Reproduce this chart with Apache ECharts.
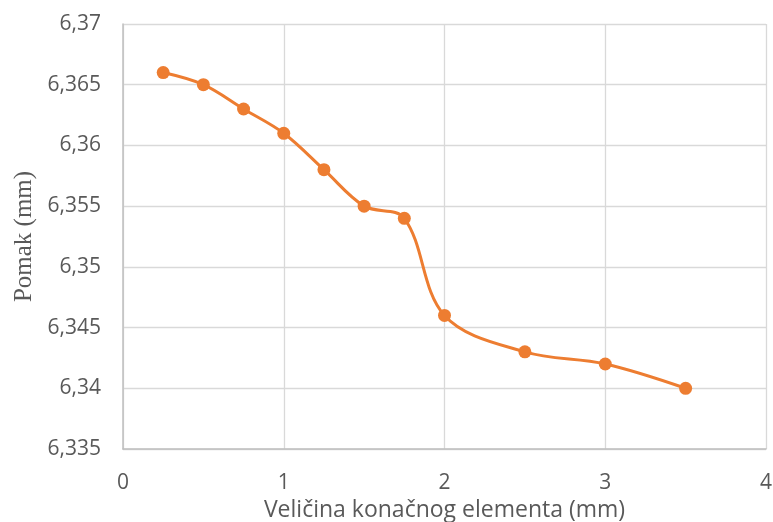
<!DOCTYPE html>
<html><head><meta charset="utf-8">
<script src="https://cdn.jsdelivr.net/npm/echarts@6/dist/echarts.min.js"></script>
<style>html,body{margin:0;padding:0;background:#fff}#c{width:773px;height:522px}</style>
</head><body><div id="c"></div>
<script>
const xValues = [0.25, 0.5, 0.75, 1, 1.25, 1.5, 1.75, 2, 2.5, 3, 3.5];
const yValues = [6.366, 6.365, 6.363, 6.361, 6.358, 6.355, 6.354, 6.346, 6.343, 6.342, 6.340];
const xAxisTitle = 'Veličina konačnog elementa (mm)';
const yAxisTitle = 'Pomak (mm)';

const chart = echarts.init(document.getElementById('c'), null, {renderer: 'canvas'});
const fmtY = v => {
  let s = (Math.round(v * 1000) / 1000).toFixed(3).replace(/0+$/, '').replace(/\.$/, '');
  return s.replace('.', ',');
};
chart.setOption({
  animation: false,
  grid: {left: 123, right: 7, top: 24, bottom: 73, containLabel: false, outerBoundsMode: 'none'},
  xAxis: {
    type: 'value', min: 0, max: 4, interval: 1,
    name: xAxisTitle, nameLocation: 'middle', nameGap: 44,
    nameTextStyle: {fontFamily: 'Open Sans', fontSize: 23, color: '#595959'},
    axisLine: {show: true, lineStyle: {color: '#bfbfbf', width: 1.5}},
    axisTick: {show: false},
    axisLabel: {fontFamily: 'Open Sans', fontSize: 21, color: '#595959', margin: 24},
    splitLine: {show: true, lineStyle: {color: '#d9d9d9', width: 1.3}}
  },
  yAxis: {
    type: 'value', min: 6.335, max: 6.37, interval: 0.005,
    name: yAxisTitle, nameLocation: 'middle', nameGap: 86,
    nameTextStyle: {fontFamily: 'Liberation Serif', fontSize: 25, color: '#595959'},
    axisLine: {show: true, lineStyle: {color: '#bfbfbf', width: 1.5}},
    axisTick: {show: false},
    axisLabel: {fontFamily: 'Open Sans', fontSize: 21, color: '#595959', margin: 22, formatter: fmtY},
    splitLine: {show: true, lineStyle: {color: '#d9d9d9', width: 1.3}}
  },
  series: [{
    type: 'line',
    data: xValues.map((x, i) => [x, yValues[i]]),
    smooth: 0.35,
    symbol: 'circle', symbolSize: 13,
    lineStyle: {color: '#ED7D31', width: 3},
    itemStyle: {color: '#ED7D31'}
  }]
});
</script></body></html>
